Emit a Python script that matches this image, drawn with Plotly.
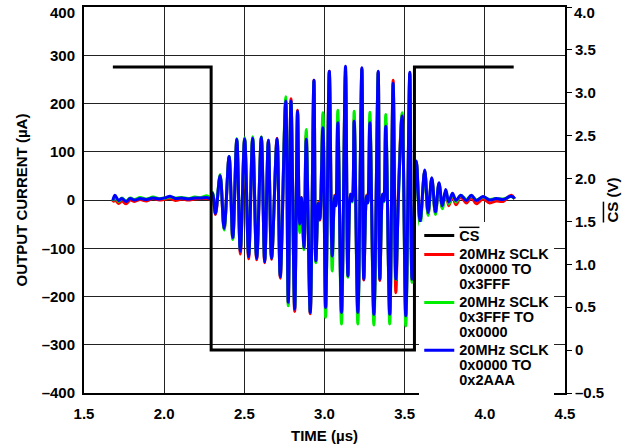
import plotly.graph_objects as go

# ---- data ----
TIME_US = [1.680, 1.693, 1.716, 1.736, 1.763, 1.788, 1.815, 1.850, 1.890, 1.930,
           1.970, 2.010, 2.037, 2.070, 2.110, 2.150, 2.190, 2.230, 2.266, 2.290,
           2.303, 2.320, 2.349, 2.374, 2.405, 2.428, 2.453, 2.475, 2.502, 2.527,
           2.552, 2.577, 2.606, 2.627, 2.650, 2.670, 2.704, 2.724, 2.758, 2.774,
           2.791, 2.814, 2.832, 2.845, 2.857, 2.872, 2.886, 2.911, 2.934, 2.946,
           2.961, 2.971, 2.990, 3.007, 3.030, 3.048, 3.063, 3.071, 3.083, 3.106,
           3.131, 3.146, 3.162, 3.173, 3.185, 3.208, 3.233, 3.245, 3.262, 3.270,
           3.283, 3.308, 3.335, 3.345, 3.362, 3.370, 3.382, 3.407, 3.428, 3.445,
           3.462, 3.484, 3.507, 3.532, 3.546, 3.573, 3.596, 3.625, 3.646, 3.669,
           3.692, 3.714, 3.735, 3.756, 3.775, 3.798, 3.820, 3.850, 3.885, 3.916,
           3.947, 3.988, 4.030, 4.071, 4.113, 4.165, 4.186]

CURRENT_RED = [-5, 1, -7, -2, -8, 0, -3, 1, -2, 3,
               0, 2, 3, -1, 2, 0, 2, 3, 3, 2,
               12, -30, 50, -60, 89, -80, 124, -112, 127, -122,
               128, -124, 130, -130, 124, -123, 128, -162, 205, -214,
               210, -231, 186, -52, 5, -99, 135, -236, 248, -128,
               -5, -42, 160, -226, 267, -118, 10, -10, 165, -235,
               260, -157, 12, -2, 168, -236, 272, -166, 10, -5,
               165, -238, 265, -167, 12, -2, 160, -239, 248, -192,
               30, 176, -242, 262, -166, 80, -48, 60, -30, 44,
               -28, 33, -16, 18, -12, 8, -10, 6, -6, 5,
               -8, 2, -6, -2, -3, 10, 2]

CURRENT_GREEN = [-2, 7, -3, 4, -2, 4, 1, 5, 2, 6,
                 3, 4, 6, 4, 5, 3, 6, 5, 9, 4,
                 16, -26, 53, -62, 90, -82, 127, -105, 129, -115,
                 131, -120, 131, -127, 124, -120, 126, -158, 214, -219,
                 203, -225, 182, -68, 3, -103, 146, -233, 246, -130,
                 -7, -38, 181, -243, 265, -147, 8, -12, 186, -257,
                 270, -160, 10, -4, 184, -257, 270, -160, 8, -6,
                 182, -259, 265, -162, 10, -4, 177, -257, 240, -165,
                 14, 181, -261, 260, -171, 78, -55, 60, -32, 44,
                 -30, 34, -18, 20, -8, 12, -4, 10, 1, 9,
                 0, 6, 1, 3, 2, 7, 3]

CURRENT_BLUE = [-1, 10, -1, 3, -3, 3, 0, 3, 1, 4,
                2, 5, 8, 3, 4, 2, 4, 4, 5, 3,
                14, -28, 51, -59, 90, -78, 126, -106, 127, -117,
                128, -121, 130, -128, 124, -121, 127, -159, 205, -212,
                205, -226, 184, -50, 5, -99, 126, -233, 248, -126,
                -7, -40, 150, -223, 267, -116, 8, -12, 160, -233,
                277, -157, 12, -2, 163, -233, 274, -164, 8, -6,
                160, -237, 267, -164, 12, -2, 153, -237, 242, -164,
                15, 174, -240, 265, -164, 81, -45, 62, -26, 46,
                -25, 36, -12, 22, -4, 14, -1, 10, -1, 10,
                -1, 7, 0, 3, 1, 8, 3]

CS_TIME = [1.68, 2.293, 2.293, 3.561, 3.561, 4.18]
CS_VOLT = [3.3, 3.3, 0.0, 0.0, 3.3, 3.3]

X_TICKS = [1.5, 2.0, 2.5, 3.0, 3.5, 4.0, 4.5]
X_TICK_TEXT = ["1.5", "2.0", "2.5", "3.0", "3.5", "4.0", "4.5"]
Y_TICKS = [-400, -300, -200, -100, 0, 100, 200, 300, 400]
Y_TICK_TEXT = ["–400", "–300", "–200", "–100", "0", "100", "200", "300", "400"]
Y2_TICKS = [-0.5, 0, 0.5, 1.0, 1.5, 2.0, 2.5, 3.0, 3.5, 4.0]
Y2_TICK_TEXT = ["–0.5", "0", "0.5", "1.0", "1.5", "2.0", "2.5", "3.0", "3.5", "4.0"]

LEGEND_LINES = [["CS"],
                ["20MHz SCLK", "0x0000 TO", "0x3FFF"],
                ["20MHz SCLK", "0x3FFF TO", "0x0000"],
                ["20MHz SCLK", "0x0000 TO", "0x2AAA"]]

FONT = "Liberation Sans, Arial, sans-serif"


def big(s, over=False):
    deco = "text-decoration:overline;" if over else ""
    return "<span style='font-size:14.5px;%s'>%s</span>" % (deco, s)


NAMES = [big(LEGEND_LINES[0][0], over=True)] + \
        ["<br>".join(big(s) for s in lines) for lines in LEGEND_LINES[1:]]

fig = go.Figure()
fig.add_trace(go.Scatter(x=CS_TIME, y=CS_VOLT, name=NAMES[0], yaxis="y2",
                         mode="lines", line=dict(color="black", width=3)))
for vals, col, nm in [(CURRENT_RED, "#ff0000", NAMES[1]),
                      (CURRENT_GREEN, "#00ee00", NAMES[2]),
                      (CURRENT_BLUE, "#0000ff", NAMES[3])]:
    fig.add_trace(go.Scatter(x=TIME_US, y=vals, name=nm, mode="lines",
                             line=dict(color=col, width=3, shape="spline", smoothing=1.0)))

tick_font = dict(family=FONT, size=15, color="black", weight="bold")
axis_common = dict(showline=True, linecolor="black", linewidth=2, automargin=False,
                   ticklabeloverflow="allow", tickfont=tick_font)
title_font = dict(family=FONT, size=15, color="black", weight="bold")

# the topmost labels sit a little below their ticks (as in the reference)
y_text_axis = Y_TICK_TEXT[:-1] + [""]
y2_text_axis = Y2_TICK_TEXT[:-1] + [""]

fig.update_layout(
    width=633, height=448,
    margin=dict(l=84, r=68, t=7, b=55),
    paper_bgcolor="white", plot_bgcolor="white",
    font=dict(family=FONT, color="black", weight="bold"),
    xaxis=dict(range=[1.5, 4.5], tickvals=X_TICKS, ticktext=X_TICK_TEXT,
               showgrid=True, gridcolor="#222", gridwidth=1, zeroline=False,
               mirror=True, ticks="", ticklabelstandoff=6,
               title=dict(text="TIME (µs)", font=title_font, standoff=9),
               **axis_common),
    yaxis=dict(range=[-400, 400], tickvals=Y_TICKS, ticktext=y_text_axis,
               showgrid=True, gridcolor="#222", gridwidth=1, zeroline=False,
               mirror=True, ticks="", ticklabelstandoff=4,
               title=dict(text="OUTPUT CURRENT (µA)", font=title_font, standoff=10),
               **axis_common),
    yaxis2=dict(range=[-0.5, 4.0], overlaying="y", side="right",
                tickvals=Y2_TICKS, ticktext=y2_text_axis,
                showgrid=False, zeroline=False, ticks="outside", ticklen=5,
                tickcolor="black", tickwidth=1,
                title=dict(text="<span style='text-decoration:overline'>CS</span> (V)",
                           font=title_font, standoff=4),
                **axis_common),
    legend=dict(x=0.697, y=0.444, xanchor="left", yanchor="top", valign="top",
                bgcolor="white", borderwidth=0,
                font=dict(family=FONT, size=11.5, color="black", weight="bold"),
                tracegroupgap=0),
    showlegend=True,
    annotations=[
        dict(xref="paper", yref="y", x=0, y=Y_TICKS[-1], text=Y_TICK_TEXT[-1],
             xanchor="right", yanchor="middle", xshift=-7, yshift=-5,
             showarrow=False, font=tick_font),
        dict(xref="paper", yref="y2", x=1, y=Y2_TICKS[-1], text=Y2_TICK_TEXT[-1],
             xanchor="left", yanchor="middle", xshift=7, yshift=-5,
             showarrow=False, font=tick_font),
    ],
)

fig.write_html("out.html", config={"displayModeBar": False},
               post_script="document.body.style.margin='0px';document.body.style.padding='0px';")
